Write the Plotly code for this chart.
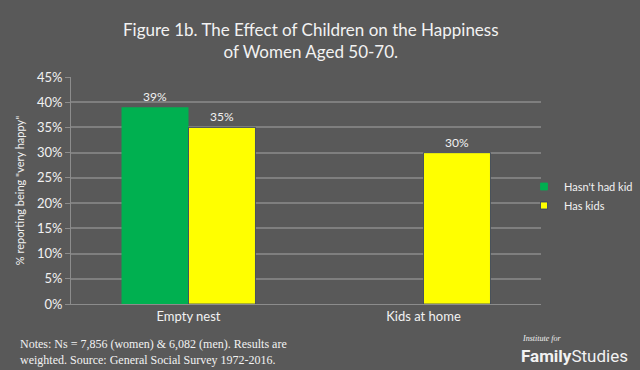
import plotly.graph_objects as go

categories = ["Empty nest", "Kids at home"]
no_kid = [0.39, None]
has_kids = [0.35, 0.30]
series_names = ["Hasn't had kid", "Has kids"]
series_colors = ["#00b050", "#ffff00"]
tick_vals = [i * 0.05 for i in range(10)]
tick_text = [f"{i*5}%" for i in range(10)]

BG = "#595959"
FONT = "Lato, 'Open Sans', sans-serif"
TXT = "#f2f2f2"

fig = go.Figure()
fig.add_bar(x=categories, y=no_kid, name=series_names[0], showlegend=False,
            marker=dict(color=series_colors[0], line=dict(width=0)),
            text=[f"{v*100:.0f}%" if v is not None else "" for v in no_kid],
            textposition="outside", textfont=dict(color=TXT, size=12),
            cliponaxis=False)
fig.add_bar(x=categories, y=has_kids, name=series_names[1], showlegend=False,
            marker=dict(color=series_colors[1], line=dict(width=0.8, color="#2f3a6a")),
            text=[f"{v*100:.0f}%" for v in has_kids],
            textposition="outside", textfont=dict(color=TXT, size=12),
            cliponaxis=False)
# legend entries with small square swatches
for i, (name, col) in enumerate(zip(series_names, series_colors)):
    fig.add_scatter(x=[None], y=[None], mode="markers", name=name, legendgroup=f"g{i}",
                    marker=dict(symbol="square", size=7, color=col,
                                line=dict(width=0.8, color="#2f3a6a" if col == "#ffff00" else col)))

fig.update_layout(
    width=640, height=370,
    paper_bgcolor=BG, plot_bgcolor=BG,
    font=dict(family=FONT, color=TXT, size=12),
    margin=dict(l=71, r=99, t=77, b=66, autoexpand=False),
    barmode="group", bargap=0.43, bargroupgap=0,
    showlegend=True,
    legend=dict(x=(524-71)/470, y=(304-196)/227, xanchor="left", yanchor="middle",
                bgcolor="rgba(0,0,0,0)", font=dict(size=11, color=TXT),
                traceorder="normal", itemwidth=30, tracegroupgap=8,
                itemsizing="trace"),
    xaxis=dict(showgrid=False, showline=True, linecolor="#8c8c8c", linewidth=1,
               ticks="", tickfont=dict(size=13, color=TXT)),
    yaxis=dict(range=[0, 0.45], tickvals=tick_vals, ticktext=tick_text,
               showgrid=True, gridcolor="#7f7f7f", gridwidth=1.5,
               showline=True, linecolor="#8c8c8c", linewidth=1,
               ticks="outside", ticklen=5, tickcolor="#8c8c8c",
               tickfont=dict(size=13, color=TXT), zeroline=False,
               title=dict(text='% reporting being "very happy"', font=dict(size=11, color=TXT),
                          standoff=10)),
)

fig.add_annotation(text="Figure 1b. The Effect of Children on the Happiness<br>of Women Aged 50-70.",
                   xref="paper", yref="paper", x=(311-71)/470, y=1.0 + (77-40)/227,
                   xanchor="center", yanchor="middle", showarrow=False,
                   font=dict(size=17, color=TXT, family=FONT))
fig.add_annotation(text="Notes: Ns = 7,856 (women) & 6,082 (men). Results are<br>weighted. Source: General Social Survey 1972-2016.",
                   xref="paper", yref="paper", x=(18-71)/470, y=-(352-304)/227,
                   xanchor="left", yanchor="middle", align="left", showarrow=False,
                   font=dict(size=12, color=TXT, family="'Liberation Serif', serif"))
fig.add_annotation(text="<i>Institute for</i>",
                   xref="paper", yref="paper", x=(520-71)/470, y=-(338-304)/227,
                   xanchor="left", yanchor="middle", showarrow=False,
                   font=dict(size=8, color=TXT, family="'Liberation Serif', serif"))
fig.add_annotation(text="<b>Family</b>Studies",
                   xref="paper", yref="paper", x=(519-71)/470, y=-(356-304)/227,
                   xanchor="left", yanchor="middle", showarrow=False,
                   font=dict(size=17, color=TXT, family="Roboto, sans-serif"))

fig.write_html("out.html", config={"displayModeBar": False})
with open("out.html", encoding="utf-8") as f:
    html = f.read()
html = html.replace("<body>", '<body style="margin:0;overflow:hidden;background:#595959">', 1)
with open("out.html", "w", encoding="utf-8") as f:
    f.write(html)
